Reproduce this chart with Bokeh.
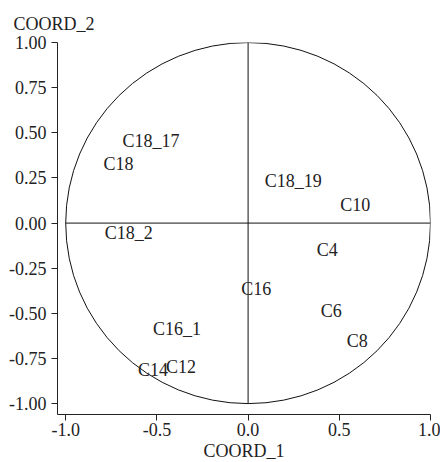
from bokeh.plotting import figure
from bokeh.models import ColumnDataSource, FixedTicker, NumeralTickFormatter, Title
from bokeh.core.properties import value
from bokeh.embed import file_html
from bokeh.resources import INLINE

labels = ["C18_17", "C18", "C18_2", "C18_19", "C10", "C4", "C16", "C6", "C8", "C16_1", "C12", "C14"]
coord1 = [-0.533, -0.71, -0.654, 0.247, 0.588, 0.434, 0.044, 0.456, 0.599, -0.39, -0.368, -0.522]
coord2 = [0.453, 0.326, -0.055, 0.232, 0.099, -0.149, -0.365, -0.486, -0.652, -0.586, -0.796, -0.812]

x_ticks = [-1.0, -0.5, 0.0, 0.5, 1.0]
y_ticks = [-1.0, -0.75, -0.5, -0.25, 0.0, 0.25, 0.5, 0.75, 1.0]

FONT = "Liberation Serif"
TXT = "#222222"

p = figure(width=440, height=462, output_backend="svg", toolbar_location=None,
           x_range=(-1.045, 1.0), y_range=(-1.06, 1.0),
           min_border_left=57, min_border_right=10, min_border_top=42, min_border_bottom=48)
p.outline_line_color = None
p.grid.visible = False
p.background_fill_color = "white"

p.title = Title(text="COORD_2", align="left", offset=-44, text_font=FONT,
                text_font_size="18px", text_font_style="normal", text_color=TXT, standoff=17)

# unit circle and axes through origin
p.ellipse(x=0, y=0, width=2, height=2, fill_color=None, line_color="#111111", line_width=1)
p.segment(x0=[-1, 0], y0=[0, -1], x1=[1, 0], y1=[0, 1], line_color="#111111", line_width=1)

src = ColumnDataSource(dict(x=coord1, y=coord2, t=labels))
p.text(x="x", y="y", text="t", source=src, text_align="center", text_baseline="middle",
       text_font=value(FONT), text_font_size="18px", text_color=TXT)

for ax, ticks, fmt in ((p.xaxis[0], x_ticks, "0.0"), (p.yaxis[0], y_ticks, "0.00")):
    ax.ticker = FixedTicker(ticks=ticks)
    ax.formatter = NumeralTickFormatter(format=fmt)
    ax.minor_tick_line_color = None
    ax.major_tick_in = 0
    ax.major_tick_out = 6
    ax.axis_line_color = "#222222"
    ax.major_tick_line_color = "#222222"
    ax.major_label_text_font = FONT
    ax.major_label_text_font_size = "18px"
    ax.major_label_text_color = TXT

p.xaxis.major_label_standoff = 2
p.yaxis.major_label_standoff = 5

p.add_layout(Title(text="COORD_1", align="center", offset=3, text_font=FONT,
                   text_font_size="18px", text_font_style="normal", text_color=TXT,
                   standoff=0), "below")

open("out.html", "w").write(file_html(p, INLINE))
